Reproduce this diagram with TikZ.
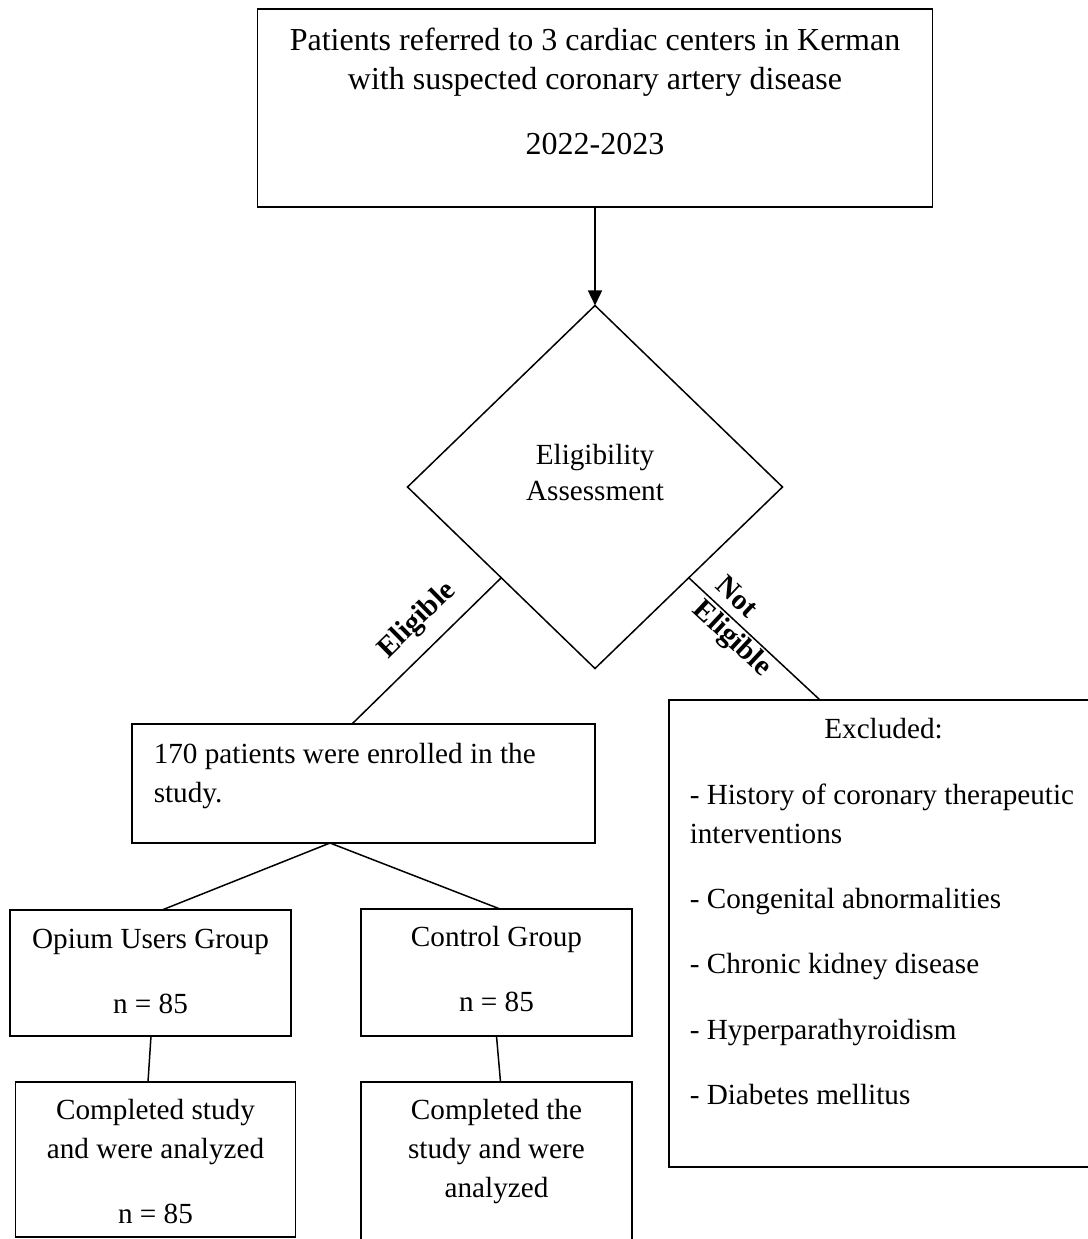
\documentclass[tikz,border=0pt]{standalone}
\usepackage{fontspec}
\setmainfont{Liberation Serif}
\usepackage{tikz}
\usetikzlibrary{arrows.meta,shapes.geometric}

\begin{document}
\begin{tikzpicture}[x=1pt,y=-1pt,line width=1.5pt,>={Triangle[length=15pt,width=14pt]},
 box/.style={draw,rectangle,anchor=north west,inner sep=0pt,outer sep=0pt},
 txt/.style={inner sep=0pt,align=center,font=\fontsize{29.2}{39}\selectfont},
 lbl/.style={inner sep=0pt,font=\fontsize{29.2}{33}\selectfont\bfseries}]
 \useasboundingbox (0,0) rectangle (1087,1239);

 % boxes and the decision
 \node[box,minimum width=675pt,minimum height=198pt] (top) at (257.5,9) {};
 \node[diamond,draw,minimum width=375pt,minimum height=363pt,inner sep=0pt,outer sep=0pt] (diam) at (595,487) {};
 \node[box,minimum width=463pt,minimum height=119pt] (enrol) at (132,724) {};
 \node[box,minimum width=429pt,minimum height=467pt] (excl) at (669,700) {};
 \node[box,minimum width=281pt,minimum height=126pt] (opium) at (10,910) {};
 \node[box,minimum width=271pt,minimum height=127pt] (ctrl) at (361,909) {};
 \node[box,minimum width=280pt,minimum height=155pt] (done1) at (15.5,1082) {};
 \node[box,minimum width=271pt,minimum height=165pt] (done2) at (361,1082) {};

 % texts
 \node[txt,anchor=north,font=\fontsize{32}{39}\selectfont] (toptxt) at ([yshift=-18.1pt]top.north)
  {Patients referred to 3 cardiac centers in Kerman\\with suspected coronary artery disease\\[26pt]2022-2023};
 \node[txt,font=\fontsize{29.2}{36}\selectfont] (diamtxt) at ([yshift=14pt]diam.center) {Eligibility\\Assessment};
 \node[txt,anchor=north west,align=left] (enroltxt) at ([xshift=21pt,yshift=-18.1pt]enrol.north west)
  {170 patients were enrolled in the\\study.};
 \node[txt,anchor=base] (excltitle) at ([yshift=-38pt]excl.north) {Excluded:};
 \node[txt,anchor=north west,align=left] (excltxt) at ([xshift=20pt,yshift=-83.1pt]excl.north west)
  {- History of coronary therapeutic\\interventions\\[26pt]- Congenital abnormalities\\[26pt]- Chronic kidney disease\\[27pt]- Hyperparathyroidism\\[26pt]- Diabetes mellitus};
 \node[txt,anchor=north] (opiumtxt) at ([yshift=-18.1pt]opium.north) {Opium Users Group\\[26pt]n = 85};
 \node[txt,anchor=north] (ctrltxt) at ([yshift=-16.1pt]ctrl.north) {Control Group\\[26pt]n = 85};
 \node[txt,anchor=north] (done1txt) at ([yshift=-16.1pt]done1.north) {Completed study\\and were analyzed\\[26pt]n = 85};
 \node[txt,anchor=north] (done2txt) at ([yshift=-16.1pt]done2.north) {Completed the\\study and were\\analyzed};

 % connectors
 \draw[->] (top) -- (diam);
 \draw (diam.south west) -- node[lbl,pos=.43,sloped,above=14pt] (elig) {Eligible} ([xshift=220pt]enrol.north west);
 \draw (diam.south east) -- node[lbl,pos=.41,sloped,align=left] (nelig) {Not\\Eligible} ([xshift=151pt]excl.north west);
 \draw ([xshift=-33.5pt]enrol.south) -- ([xshift=11.5pt]opium.north);
 \draw ([xshift=-33.5pt]enrol.south) -- ([xshift=3.5pt]ctrl.north);
 \draw ([xshift=.5pt]opium.south) -- ([xshift=-7.5pt]done1.north);
 \draw (ctrl.south) -- ([xshift=4pt]done2.north);
\end{tikzpicture}
\end{document}
